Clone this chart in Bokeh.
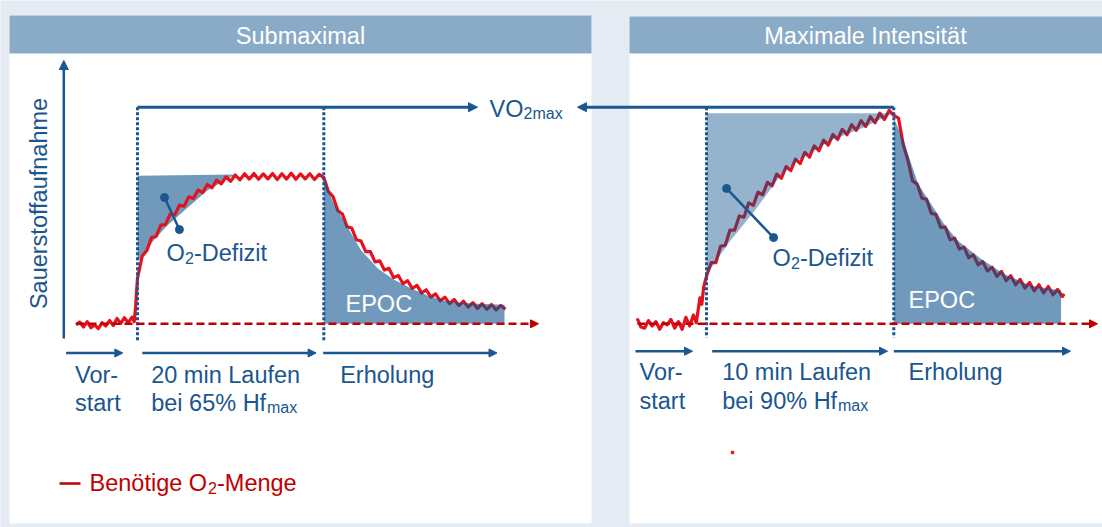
import math
from bokeh.plotting import figure
from bokeh.models import Range1d, Arrow, NormalHead
from bokeh.core.properties import value
from bokeh.embed import file_html
from bokeh.resources import INLINE

# ---------------- data (time in min, O2 uptake in % of VO2max) ----------------
# Submaximal: 20 min at 65% HFmax
left_time = [-6.6, -6.2, -5.8, -5.4, -5.0, -4.6, -4.2, -3.8, -3.4, -3.0, -2.6, -2.2,
             -1.8, -1.4, -1.0, -0.6, -0.35, -0.2, -0.1, 0.0,
             0.5, 1.0, 1.5, 2.0, 2.5, 3.0, 3.5, 4.0, 4.5, 5.0, 5.5, 6.0, 6.5, 7.0,
             7.5, 8.0, 8.5, 9.0, 9.5, 10.0, 10.5, 11.0, 11.5, 12.0, 12.5, 13.0, 13.5,
             14.0, 14.5, 15.0, 15.5, 16.0, 16.5, 17.0, 17.5, 18.0, 18.5, 19.0, 19.5, 20.0,
             20.5, 21.0, 21.5, 22.0, 22.5, 23.0, 23.5, 24.0, 24.5, 25.0, 25.5, 26.0, 26.5,
             27.0, 27.5, 28.0, 28.5, 29.0, 29.5, 30.0, 30.5, 31.0, 31.5, 32.0, 32.5, 33.0,
             33.5, 34.0, 34.5, 35.0, 35.5, 36.0, 36.5, 37.0, 37.5, 38.0, 38.5, 39.0, 39.5]
left_vo2 = [-0.5, 0.8, -1.5, 1.0, -1.8, -0.5, -2.2, 0.5, -1.0, 1.5, -0.8, 2.5,
            0.2, 2.8, 0.5, 3.0, 1.0, 8.0, 15.0, 21.0,
            31.2, 33.8, 39.8, 40.3, 45.6, 45.8, 50.6, 50.3, 54.8, 54.3, 58.6, 57.8, 61.8, 60.6,
            64.3, 62.8, 66.3, 64.6, 67.8, 65.8, 68.7, 66.5, 69.3, 66.8, 69.4, 66.7, 69.2,
            66.9, 69.4, 66.6, 69.3, 66.8, 69.5, 66.7, 69.2, 66.9, 69.3, 66.6, 69.0, 67.5,
            61.0, 58.7, 52.3, 50.7, 44.8, 44.2, 38.8, 38.2, 33.3, 33.3, 28.6, 29.1, 24.8,
            25.6, 21.3, 22.3, 18.6, 19.9, 16.3, 17.7, 14.2, 15.7, 12.3, 13.8, 10.6, 12.3,
            9.3, 11.2, 8.4, 10.4, 7.7, 9.8, 7.1, 9.3, 6.7, 8.9, 6.4, 8.5, 6.7]

left_deficit_time = [0, 0, 10.5, 9.7, 7.5, 5.4, 3.2, 1.7, 0.32, 0]
left_deficit_vo2 = [29, 68.4, 68.9, 67, 61.5, 53.7, 45.4, 38.4, 30, 29]
left_epoc_time = [20, 20, 21, 22.9, 24, 25.8, 27.5, 29.4, 31.2, 32.9, 34.7, 36.6, 38.6, 39.4, 39.4]
left_epoc_vo2 = [0, 67.5, 56, 42, 34, 25.5, 20.5, 16.3, 13, 10.8, 9.7, 9.2, 8.9, 8.8, 0]
left_pointer_time = [2.9, 4.5]
left_pointer_vo2 = [58.3, 43.5]

# Maximal: 10 min at 90% HFmax
right_time = [-3.7, -3.5, -3.3, -3.1, -2.9, -2.7, -2.5, -2.3, -2.1, -1.9, -1.7, -1.5,
              -1.3, -1.1, -0.9, -0.7, -0.55, -0.45, -0.35, -0.25, -0.15, 0.0,
              0.25, 0.5, 0.75, 1.0, 1.25, 1.5, 1.75, 2.0, 2.25, 2.5, 2.75, 3.0, 3.25, 3.5,
              3.75, 4.0, 4.25, 4.5, 4.75, 5.0, 5.25, 5.5, 5.75, 6.0, 6.25, 6.5, 6.75, 7.0,
              7.25, 7.5, 7.75, 8.0, 8.25, 8.5, 8.75, 9.0, 9.25, 9.5, 9.75, 10.0,
              10.25, 10.5, 10.75, 11.0, 11.25, 11.5, 11.75, 12.0, 12.25, 12.5, 12.75, 13.0,
              13.25, 13.5, 13.75, 14.0, 14.25, 14.5, 14.75, 15.0, 15.25, 15.5, 15.75, 16.0,
              16.25, 16.5, 16.75, 17.0, 17.25, 17.5, 17.75, 18.0, 18.25, 18.5, 18.75, 19.0, 19.1]
right_vo2 = [2.5, -1.5, -2.0, 1.5, -1.0, 1.0, -2.5, 0.5, -0.5, 2.0, -2.0, 1.0,
             -2.5, 3.0, -1.0, 4.0, 0.5, 6.0, 12.0, 9.0, 17.0, 22.0,
             28.3, 28.2, 35.8, 36.2, 43.3, 43.2, 49.8, 49.2, 55.8, 54.7, 60.8, 59.5, 65.3, 63.7,
             69.1, 67.2, 72.6, 70.7, 76.0, 74.0, 79.1, 77.0, 82.1, 79.9, 84.8, 82.5, 87.4, 85.1,
             89.8, 87.3, 91.9, 89.3, 93.8, 91.1, 95.6, 92.8, 97.2, 94.3, 98.5, 96.2,
             95.0, 83.0, 75.5, 66.0, 64.5, 58.0, 57.5, 51.0, 50.5, 44.5, 44.7, 38.8,
             39.5, 34.5, 35.4, 30.5, 31.8, 27.2, 28.7, 24.4, 26.1, 21.9, 24.2, 19.9,
             22.2, 18.0, 20.5, 16.5, 19.1, 15.2, 18.0, 14.3, 17.2, 13.4, 15.9, 12.6, 13.8]

right_deficit_time = [0, 0, 9.95, 9.68, 8.4, 6.63, 4.87, 3.96, 2.46, 1.28, 0.05, 0]
right_deficit_vo2 = [23, 97.2, 97.2, 96.1, 90.6, 84.6, 75.4, 68.5, 50.9, 38.5, 23.2, 23]
right_epoc_time = [10, 10, 10.5, 11.3, 11.98, 12.67, 13.42, 14.65, 15.88, 17.33, 18.93, 18.93]
right_epoc_vo2 = [0, 95, 85, 64.6, 55.4, 46.2, 38.4, 30, 23, 17.6, 15.4, 0]
right_pointer_time = [1.07, 3.58]
right_pointer_vo2 = [62.5, 39.8]

assert len(left_time) == len(left_vo2)
assert len(right_time) == len(right_vo2)

# ---------------- style / layout ----------------
W, H = 1102, 527
BG = "#e4ebf3"
HEAD = "#8aabc8"
BLUE = "#1a568f"
RED = "#e3121e"
DRED = "#c00000"
SHADE = "#0a4f8a"
FONT = value("Liberation Sans")
FS = "23.5px"
FSUB = "16px"
DY = -8.5  # alphabetic-baseline correction for the svg text renderer

# pixel anchors of each panel's data space
L_T0, L_T1, L_SPAN = 137.0, 323.3, 20.0
R_T0, R_T1, R_SPAN = 706.0, 893.3, 10.0
Y0, Y100 = 323.3, 106.7
lsc = (L_T1 - L_T0) / L_SPAN
rsc = (R_T1 - R_T0) / R_SPAN
vsc = (Y0 - Y100) / 100.0

p = figure(width=W, height=H, x_range=Range1d(0, W), y_range=Range1d(H, 0),
           output_backend="svg", toolbar_location=None,
           x_axis_location=None, y_axis_location=None, min_border=0,
           outline_line_color=None, background_fill_color=BG, border_fill_color=BG)
p.grid.visible = False
p.extra_x_ranges = {"L": Range1d(-L_T0 / lsc, (W - L_T0) / lsc),
                    "R": Range1d(-R_T0 / rsc, (W - R_T0) / rsc)}
p.extra_y_ranges = {"v": Range1d((Y0 - H) / vsc, Y0 / vsc)}


def arrow(x0, y0, x1, y1, color, width=2.5, dash="solid", xr="default", yr="default", size=9):
    p.add_layout(Arrow(x_start=x0, y_start=y0, x_end=x1, y_end=y1,
                       line_color=color, line_width=width, line_dash=dash,
                       end=NormalHead(size=size, fill_color=color, line_color=color, line_width=1),
                       x_range_name=xr, y_range_name=yr))


def txt(x, y, s, size=FS, color=BLUE, align="left", baseline="alphabetic", angle=0.0):
    if baseline == "alphabetic":
        y = y + DY
    p.text(x=[x], y=[y], text=[s], text_font=FONT, text_font_size=value(size),
           text_color=color, text_align=align, text_baseline=baseline, angle=angle)


# panels and headers
p.quad(left=[9, 629], right=[591, 1102], top=[15, 16], bottom=[523, 523],
       fill_color="white", line_color=None)
p.quad(left=[9, 629], right=[591, 1102], top=[15, 16], bottom=[53, 53],
       fill_color=HEAD, line_color=None)
txt(300, 35, "Submaximal", color="white", align="center", baseline="middle")
txt(865, 35, "Maximale Intensität", color="white", align="center", baseline="middle")

# left deficit shade (below curve)
p.patch(left_deficit_time, left_deficit_vo2, x_range_name="L", y_range_name="v",
        fill_color=SHADE, fill_alpha=0.58, line_color=None)

# O2 demand curves
p.line(left_time, left_vo2, x_range_name="L", y_range_name="v",
       line_color=RED, line_width=3.2, line_join="round")
p.line(right_time, right_vo2, x_range_name="R", y_range_name="v",
       line_color=RED, line_width=3.2, line_join="round")

# shades above curve
p.patch(left_epoc_time, left_epoc_vo2, x_range_name="L", y_range_name="v",
        fill_color=SHADE, fill_alpha=0.58, line_color=None)
p.patch(right_deficit_time, right_deficit_vo2, x_range_name="R", y_range_name="v",
        fill_color=SHADE, fill_alpha=0.43, line_color=None)
p.patch(right_epoc_time, right_epoc_vo2, x_range_name="R", y_range_name="v",
        fill_color=SHADE, fill_alpha=0.58, line_color=None)

# dotted phase boundaries
for t, xr, bot in [(0, "L", -8.5), (L_SPAN, "L", -8.5), (0, "R", -6.3), (R_SPAN, "R", -6.3)]:
    p.line([t, t], [100, bot], x_range_name=xr, y_range_name="v",
           line_color=BLUE, line_width=3, line_dash="3 2")

# VO2max arrows
arrow(0, 100, (477 - L_T0) / lsc, 100, BLUE, width=3, xr="L", yr="v")
arrow(R_SPAN, 100, (577 - R_T0) / rsc, 100, BLUE, width=3, xr="R", yr="v")

# baselines (red dashed)
arrow((76 - L_T0) / lsc, 0, (538 - L_T0) / lsc, 0, DRED, width=2.5, dash="8 4", xr="L", yr="v", size=8)
arrow((637 - R_T0) / rsc, 0, (1097 - R_T0) / rsc, 0, DRED, width=2.5, dash="8 4", xr="R", yr="v", size=8)

# y axis arrow
arrow(63.3, 338, 63.3, 60, BLUE, width=2.5)
txt(38, 203, "Sauerstoffaufnahme", align="center", baseline="middle", angle=math.pi / 2)

# phase arrows
for x0, x1 in [(65.6, 122.3), (141.8, 315.6), (322.7, 496.5)]:
    arrow(x0, 352.5, x1, 352.5, BLUE, width=2.5, size=8)
for x0, x1 in [(635, 692), (711.7, 887), (893.3, 1070)]:
    arrow(x0, 350.7, x1, 350.7, BLUE, width=2.5, size=8)

# pointers for O2-Defizit
p.line(left_pointer_time, left_pointer_vo2, x_range_name="L", y_range_name="v",
       line_color=BLUE, line_width=2.5)
p.scatter(left_pointer_time, left_pointer_vo2, x_range_name="L", y_range_name="v",
          size=8, color=BLUE)
p.line(right_pointer_time, right_pointer_vo2, x_range_name="R", y_range_name="v",
       line_color=BLUE, line_width=2.5)
p.scatter(right_pointer_time, right_pointer_vo2, x_range_name="R", y_range_name="v",
          size=8, color=BLUE)

# texts
txt(489, 117, "VO")
txt(523, 121, "2max", size=FSUB)
txt(166, 261, "O")
txt(184.5, 266, "2", size=FSUB)
txt(193.5, 261, "-Defizit")
txt(772, 266, "O")
txt(790.5, 270.5, "2", size=FSUB)
txt(799.5, 266, "-Defizit")
txt(345, 312, "EPOC", color="white")
txt(908, 308, "EPOC", color="white")

txt(74.5, 382.5, "Vor-")
txt(74.5, 410.5, "start")
txt(150.7, 382.5, "20 min Laufen")
txt(150.7, 410.5, "bei 65% Hf")
txt(266.5, 415.5, "max", size=FSUB)
txt(339.7, 382.5, "Erholung")

txt(639, 380, "Vor-")
txt(639, 409, "start")
txt(721.7, 380, "10 min Laufen")
txt(721.7, 409, "bei 90% Hf")
txt(837.5, 413.5, "max", size=FSUB)
txt(908, 380, "Erholung")

# legend
p.line([59, 80], [483, 483], line_color=DRED, line_width=2.5)
txt(89, 491, "Benötige O", color=DRED)
txt(207.5, 495.5, "2", size=FSUB, color=DRED)
txt(216.5, 491, "-Menge", color=DRED)

# tiny red mark in the reference
p.scatter([732], [452], size=2.5, color=RED, marker="square")

open("out.html", "w").write(file_html(p, INLINE))
